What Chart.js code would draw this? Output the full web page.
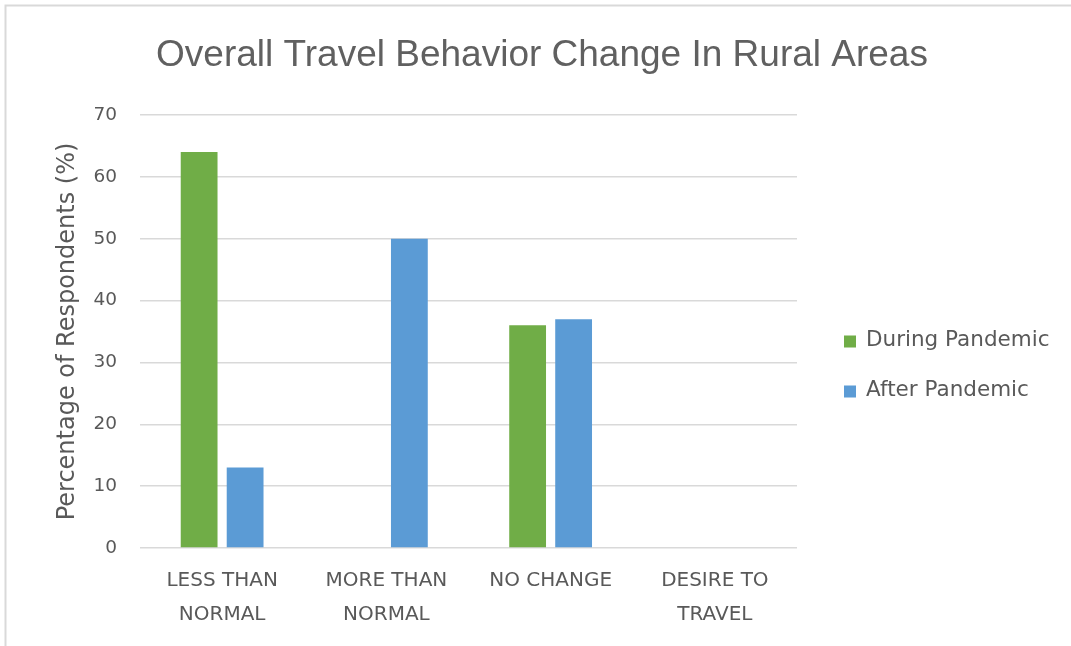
<!DOCTYPE html>
<html>
<head>
<meta charset="utf-8">
<script src="https://cdn.jsdelivr.net/npm/chart.js@4/dist/chart.umd.min.js"></script>
<style>
html,body{margin:0;padding:0;background:#fff;}
canvas{display:block;}
</style>
</head>
<body>
<canvas id="c" width="1071" height="646"></canvas>
<script>
const categories = [['LESS THAN','NORMAL'], ['MORE THAN','NORMAL'], 'NO CHANGE', ['DESIRE TO','TRAVEL']];
const duringPandemic = [64, 0, 36, 0];
const afterPandemic = [13, 50, 37, 0];
const seriesNames = ['During Pandemic', 'After Pandemic'];
const seriesColors = ['#70AD47', '#5B9BD5'];
const yTicks = [0, 10, 20, 30, 40, 50, 60, 70];
const chartTitle = 'Overall Travel Behavior Change In Rural Areas';
const yTitle = 'Percentage of Respondents (%)';

const textColor = '#595959';

const bgAndBorder = {
  id: 'bgAndBorder',
  beforeDraw(chart) {
    const ctx = chart.ctx;
    ctx.save();
    ctx.fillStyle = '#ffffff';
    ctx.fillRect(0, 0, chart.width, chart.height);
    ctx.strokeStyle = '#d9d9d9';
    ctx.lineWidth = 2;
    ctx.beginPath();
    ctx.moveTo(5.5, chart.height);
    ctx.lineTo(5.5, 5.5);
    ctx.lineTo(chart.width, 5.5);
    ctx.stroke();
    ctx.restore();
  }
};

const sideLegend = {
  id: 'sideLegend',
  afterDraw(chart) {
    const ctx = chart.ctx;
    const area = chart.chartArea;
    const x0 = area.right + 47;
    const midY = (area.top + area.bottom) / 2 + 34;
    const gap = 50;
    const ds = chart.data.datasets;
    ctx.save();
    ctx.font = '21.5px "DejaVu Sans"';
    ctx.textBaseline = 'middle';
    ctx.textAlign = 'left';
    ds.forEach((d, i) => {
      const cy = midY + (i - (ds.length - 1) / 2) * gap;
      ctx.fillStyle = d.backgroundColor;
      ctx.fillRect(x0, cy - 5, 12, 12);
      ctx.fillStyle = textColor;
      ctx.fillText(d.label, x0 + 22, cy);
    });
    ctx.restore();
  }
};

new Chart(document.getElementById('c'), {
  type: 'bar',
  data: {
    labels: categories,
    datasets: [
      { label: seriesNames[0], data: duringPandemic, backgroundColor: seriesColors[0], borderWidth: 0 },
      { label: seriesNames[1], data: afterPandemic, backgroundColor: seriesColors[1], borderWidth: 0 }
    ]
  },
  options: {
    responsive: false,
    animation: false,
    devicePixelRatio: 1,
    layout: { padding: { left: 13, right: 0, top: 0, bottom: 0 } },
    datasets: { bar: { categoryPercentage: 0.56, barPercentage: 0.8 } },
    plugins: {
      legend: { display: false },
      tooltip: { enabled: false },
      title: {
        display: true,
        text: chartTitle,
        color: '#606060',
        font: { family: '"Liberation Sans"', size: 37, weight: 'normal' },
        padding: { top: 34, bottom: 36.6 }
      }
    },
    scales: {
      x: {
        grid: { display: false, drawTicks: false },
        border: { display: false },
        ticks: {
          color: textColor,
          font: { family: '"DejaVu Sans"', size: 20, lineHeight: 1.7 },
          padding: 16,
          maxRotation: 0,
          autoSkip: false
        },
        afterFit(s) { s.height = 98; }
      },
      y: {
        min: 0,
        max: 70,
        afterBuildTicks(s) { s.ticks = yTicks.map(v => ({ value: v })); },
        grid: { color: '#d9d9d9', lineWidth: 1.5, drawTicks: false },
        border: { display: false },
        ticks: {
          color: textColor,
          font: { family: '"DejaVu Sans"', size: 18.5 },
          padding: 23
        },
        title: {
          display: true,
          text: yTitle,
          color: textColor,
          font: { family: '"DejaVu Sans"', size: 24 },
          padding: { top: 40, bottom: 0 }
        },
        afterFit(s) { s.width = 127; }
      },
      side: {
        type: 'linear',
        position: 'right',
        display: true,
        grid: { display: false, drawTicks: false },
        border: { display: false },
        ticks: { display: false },
        afterFit(s) { s.width = 274; }
      }
    }
  },
  plugins: [bgAndBorder, sideLegend]
});
</script>
</body>
</html>
